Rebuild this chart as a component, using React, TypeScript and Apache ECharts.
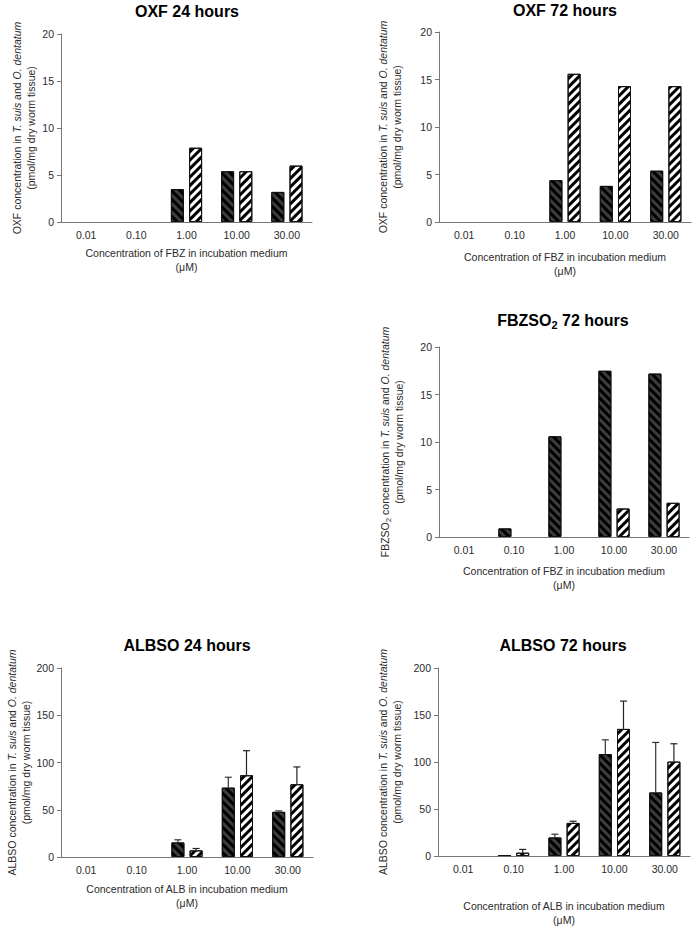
import React, { useEffect, useRef } from "react";
import * as echarts from "echarts";

const CATEGORIES = ["0.01", "0.10", "1.00", "10.00", "30.00"];

// OXF 24 hours
const OXF24_DARK = [null, null, 3.5, 5.4, 3.2];
const OXF24_HATCH = [null, null, 7.9, 5.4, 6.0];
// OXF 72 hours
const OXF72_DARK = [null, null, 4.4, 3.8, 5.4];
const OXF72_HATCH = [null, null, 15.6, 14.3, 14.3];
// FBZSO2 72 hours
const FBZSO2_DARK = [null, 0.9, 10.6, 17.5, 17.2];
const FBZSO2_HATCH = [null, null, null, 3.0, 3.6];
// ALBSO 24 hours
const ALBSO24_DARK = [null, null, 15.4, 73.4, 47.8];
const ALBSO24_DARK_ERR = [null, null, 2.8, 11.0, 1.0];
const ALBSO24_HATCH = [null, null, 7.0, 86.5, 77.0];
const ALBSO24_HATCH_ERR = [null, null, 2.0, 26.0, 18.3];
// ALBSO 72 hours
const ALBSO72_DARK = [null, 1.0, 19.7, 108.4, 67.6];
const ALBSO72_DARK_ERR = [null, null, 3.5, 15.2, 53.2];
const ALBSO72_HATCH = [null, 3.5, 35.2, 135.2, 100.4];
const ALBSO72_HATCH_ERR = [null, 3.5, 1.8, 29.6, 19.0];

const FONT = "'Liberation Sans', Arial, Helvetica, sans-serif";
const TXT = "#2a2a2a";
const AXIS = "#777";
const BAR_W = 13;
const BAR_GAP_RATIO = 0.4;

const darkDecal = {
  symbol: "rect",
  symbolSize: 1,
  color: "#000",
  dashArrayX: [1, 0],
  dashArrayY: [2.4, 2.2],
  rotation: Math.PI / 4,
};
const hatchDecal = {
  symbol: "rect",
  symbolSize: 1,
  color: "#000",
  dashArrayX: [1, 0],
  dashArrayY: [2.4, 2.2],
  rotation: -Math.PI / 4,
};

const yRich = {
  n: { fontSize: 10.5, fontFamily: FONT, color: TXT, lineHeight: 14 },
  i: { fontSize: 10.5, fontFamily: FONT, color: TXT, lineHeight: 14, fontStyle: "italic" },
  s: { fontSize: 8, fontFamily: FONT, color: TXT, lineHeight: 14, verticalAlign: "bottom", padding: [4, 0, 0, 0] },
};

type Panel = {
  title: string;
  grid: { left: number; top: number; width: number; height: number };
  titleX: number;
  titleY: number;
  yMax: number;
  yInterval: number;
  yName: string;
  yGap: number;
  xName: string;
  xGap: number;
  dark: (number | null)[];
  hatch: (number | null)[];
  darkErr?: (number | null)[];
  hatchErr?: (number | null)[];
};

const SPECIES = "{i|T. suis}{n| and }{i|O. dentatum}\n{n|(pmol/mg dry worm tissue)}";

const PANELS: Panel[] = [
  {
    title: "OXF 24 hours",
    grid: { left: 61, top: 34, width: 251, height: 188 },
    titleX: 187, titleY: 1,
    yMax: 20, yInterval: 5,
    yName: "{n|OXF concentration in }" + SPECIES, yGap: 22,
    xName: "Concentration of FBZ in incubation medium\n(μM)", xGap: 24,
    dark: OXF24_DARK, hatch: OXF24_HATCH,
  },
  {
    title: "OXF 72 hours",
    grid: { left: 439, top: 32, width: 252, height: 190 },
    titleX: 565, titleY: 0,
    yMax: 20, yInterval: 5,
    yName: "{n|OXF concentration in }" + SPECIES, yGap: 35,
    xName: "Concentration of FBZ in incubation medium\n(μM)", xGap: 28,
    dark: OXF72_DARK, hatch: OXF72_HATCH,
  },
  {
    title: "FBZSO2 72 hours",
    grid: { left: 439, top: 347, width: 250, height: 190 },
    titleX: 563, titleY: 310,
    yMax: 20, yInterval: 5,
    yName: "{n|FBZSO}{s|2}{n| concentration in }" + SPECIES, yGap: 33,
    xName: "Concentration of FBZ in incubation medium\n(μM)", xGap: 27,
    dark: FBZSO2_DARK, hatch: FBZSO2_HATCH,
  },
  {
    title: "ALBSO 24 hours",
    grid: { left: 61, top: 668, width: 252, height: 189 },
    titleX: 187, titleY: 635,
    yMax: 200, yInterval: 50,
    yName: "{n|ALBSO concentration in }" + SPECIES, yGap: 26,
    xName: "Concentration of ALB in incubation medium\n(μM)", xGap: 25,
    dark: ALBSO24_DARK, hatch: ALBSO24_HATCH,
    darkErr: ALBSO24_DARK_ERR, hatchErr: ALBSO24_HATCH_ERR,
  },
  {
    title: "ALBSO 72 hours",
    grid: { left: 438, top: 668, width: 252, height: 189 },
    titleX: 563, titleY: 635,
    yMax: 200, yInterval: 50,
    yName: "{n|ALBSO concentration in }" + SPECIES, yGap: 34,
    xName: "Concentration of ALB in incubation medium\n(μM)", xGap: 43,
    dark: ALBSO72_DARK, hatch: ALBSO72_HATCH,
    darkErr: ALBSO72_DARK_ERR, hatchErr: ALBSO72_HATCH_ERR,
  },
];

function errSeries(values: (number | null)[], errs: (number | null)[], idx: number, side: number, color: string) {
  const data = values.map((v, i) => [i, v, errs[i]]);
  return {
    type: "custom",
    xAxisIndex: idx,
    yAxisIndex: idx,
    z: 5,
    data: data.filter((d) => d[1] != null && d[2] != null),
    renderItem: (params: any, api: any) => {
      const x = api.value(0);
      const v = api.value(1);
      const e = api.value(2);
      const p0 = api.coord([x, v]);
      const p1 = api.coord([x, v + e]);
      const off = side * (BAR_W * (1 + BAR_GAP_RATIO)) / 2;
      const cx = p0[0] + off;
      const cap = 3.5;
      return {
        type: "group",
        children: [
          { type: "line", shape: { x1: cx, y1: p0[1], x2: cx, y2: p1[1] }, style: { stroke: color, lineWidth: 1.2 } },
          { type: "line", shape: { x1: cx - cap, y1: p1[1], x2: cx + cap, y2: p1[1] }, style: { stroke: color, lineWidth: 1.2 } },
        ],
      };
    },
  };
}

export default function App() {
  const ref = useRef<HTMLDivElement>(null);
  useEffect(() => {
    if (!ref.current) return;
    const chart = echarts.init(ref.current, null, { renderer: "svg" });

    const title = PANELS.map((p) => {
      const isSub = p.title.startsWith("FBZSO2");
      return {
        text: isSub ? "{b|FBZSO}{s|2}{b| 72 hours}" : p.title,
        left: p.titleX,
        top: p.titleY,
        padding: 0,
        textAlign: "center",
        textStyle: {
          fontFamily: FONT,
          fontWeight: "bold",
          fontSize: 16,
          lineHeight: 20,
          color: "#000",
          rich: {
            b: { fontFamily: FONT, fontWeight: "bold", fontSize: 16, color: "#000", lineHeight: 20 },
            s: { fontFamily: FONT, fontWeight: "bold", fontSize: 11, color: "#000", lineHeight: 20, verticalAlign: "bottom", padding: [6, 0, 0, 0] },
          },
        },
      };
    });

    const grid: any[] = PANELS.map((p) => ({ ...p.grid }));
    const xAxis: any[] = PANELS.map((p, i) => ({
      type: "category",
      gridIndex: i,
      data: CATEGORIES,
      name: p.xName,
      nameLocation: "middle",
      nameGap: p.xGap,
      nameTextStyle: { fontFamily: FONT, fontSize: 10.5, color: TXT, lineHeight: 14, verticalAlign: "top" },
      axisLine: { lineStyle: { color: AXIS, width: 1 } },
      axisTick: { alignWithLabel: true, length: 3, lineStyle: { color: AXIS } },
      axisLabel: { fontFamily: FONT, fontSize: 10.5, color: TXT, margin: 7 },
      splitLine: { show: false },
    }));
    const yAxis: any[] = PANELS.map((p, i) => ({
      type: "value",
      gridIndex: i,
      min: 0,
      max: p.yMax,
      interval: p.yInterval,
      name: p.yName,
      nameLocation: "middle",
      nameRotate: 90,
      nameGap: p.yGap,
      nameTextStyle: { fontFamily: FONT, fontSize: 10.5, color: TXT, lineHeight: 14, rich: yRich },
      axisLine: { show: true, lineStyle: { color: AXIS, width: 1 } },
      axisTick: { show: true, length: 4, lineStyle: { color: AXIS } },
      axisLabel: { fontFamily: FONT, fontSize: 10.5, color: TXT, margin: 7 },
      splitLine: { show: false },
    }));

    const series: any[] = [];
    PANELS.forEach((p, i) => {
      series.push({
        type: "bar",
        xAxisIndex: i,
        yAxisIndex: i,
        data: p.dark,
        barWidth: BAR_W,
        barGap: BAR_GAP_RATIO * 100 + "%",
        itemStyle: { color: "#3c3c3c", borderColor: "#111", borderWidth: 1, decal: darkDecal },
      });
      series.push({
        type: "bar",
        xAxisIndex: i,
        yAxisIndex: i,
        data: p.hatch,
        barWidth: BAR_W,
        barGap: BAR_GAP_RATIO * 100 + "%",
        itemStyle: { color: "#fff", borderColor: "#111", borderWidth: 1, decal: hatchDecal },
      });
      if (p.darkErr) series.push(errSeries(p.dark, p.darkErr, i, -1, "#333"));
      if (p.hatchErr) series.push(errSeries(p.hatch, p.hatchErr, i, 1, "#222"));
    });

    chart.setOption({
      animation: false,
      backgroundColor: "#fff",
      title,
      grid,
      xAxis,
      yAxis,
      series,
    });
    return () => chart.dispose();
  }, []);
  return (
    <div
      ref={ref}
      style={{ position: "absolute", left: 0, top: 0, width: 696, height: 928, background: "#fff" }}
    />
  );
}
